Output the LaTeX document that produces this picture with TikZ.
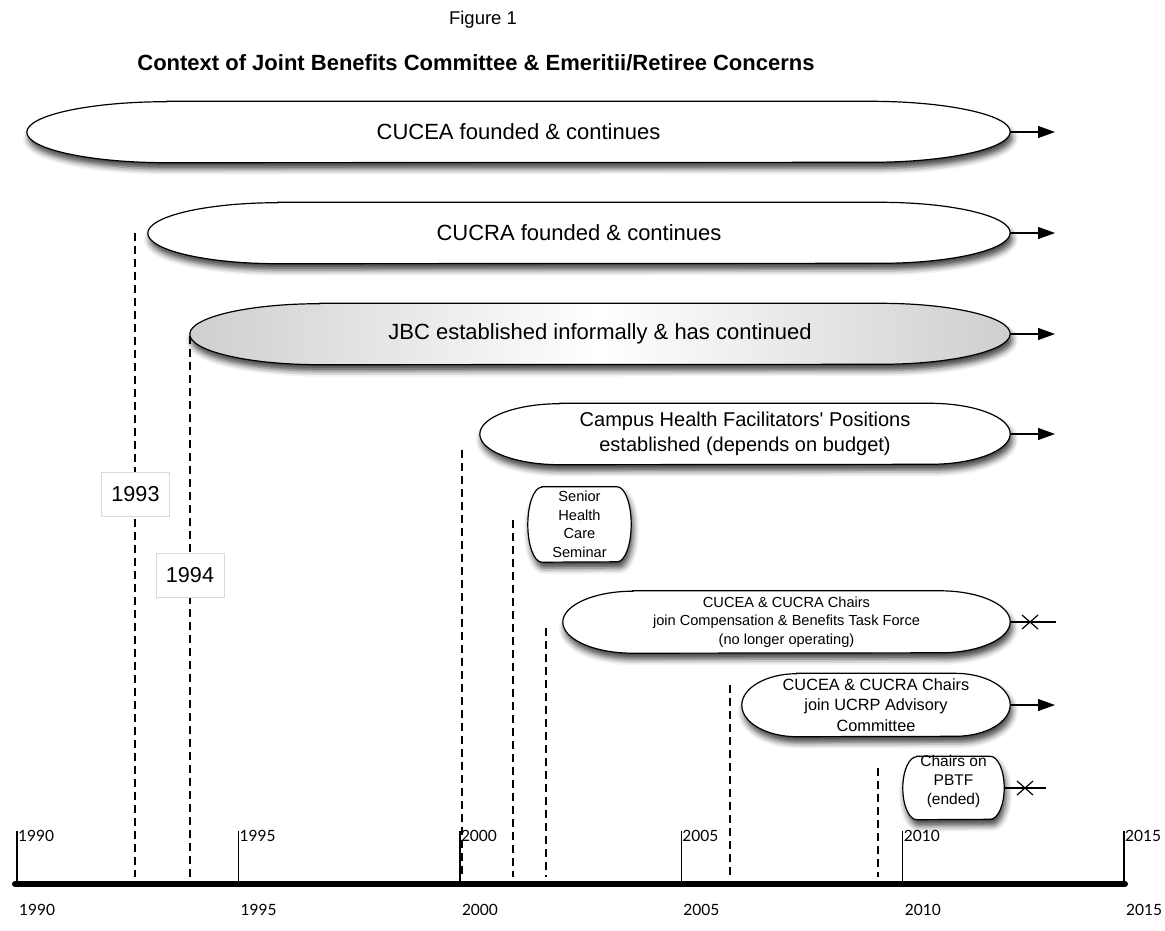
\documentclass[tikz,border=0pt]{standalone}
\usepackage{fontspec}
\setmainfont{Liberation Sans}
\newfontfamily\axisfont{Lato}
\usetikzlibrary{arrows.meta,shadows.blur,backgrounds}

% name, cap x-radius, half height, extra style
\newcommand\capsule[4]{%
  \path[capsule,#4] ([xshift=#2pt]#1.north west) -- ([xshift=-#2pt]#1.north east)
    arc[start angle=90,end angle=-90,x radius=#2pt,y radius=#3pt]
    -- ([xshift=#2pt]#1.south west)
    arc[start angle=270,end angle=90,x radius=#2pt,y radius=#3pt] -- cycle;}

\tikzset{
  holder/.style={inner sep=0pt, align=center},
  capsule/.style={draw=black, line width=1.2pt, fill=white,
    blur shadow={shadow xshift=2pt, shadow yshift=-6pt, shadow blur radius=6pt, shadow opacity=75}},
  bigtxt/.style={font=\fontsize{22}{26}\selectfont},
  midtxt/.style={font=\fontsize{20}{25}\selectfont},
  ucrptxt/.style={font=\fontsize{16.3}{20.5}\selectfont},
  smalltxt/.style={font=\fontsize{14.6}{18.5}\selectfont},
  pbtftxt/.style={font=\fontsize{15.5}{19}\selectfont},
  conn/.style={line width=1.2pt},
  goon/.style={conn, -{Triangle[length=17pt,width=12pt]}},
  yeardash/.style={line width=1.5pt, dash pattern=on 8pt off 5pt},
  yearbox/.style={draw=gray!30, line width=0.6pt, fill=white, minimum width=68pt,
    minimum height=44pt, inner sep=0pt, font=\fontsize{21.6}{24}\selectfont},
  tick/.style={line width=1.4pt},
  ticklab/.style={anchor=west, inner sep=0pt, font=\axisfont\fontsize{15.5}{17}\selectfont},
  crossmark/.style={line width=1.2pt}
}

\begin{document}
\begin{tikzpicture}[x=1pt, y=-1pt]
\useasboundingbox (0,0) rectangle (1165,930);

% titles
\node[holder, font=\fontsize{18.5}{22}\selectfont] (fig) at (483,20) {Figure 1};
\node[holder, font=\bfseries\fontsize{22}{26}\selectfont] (title) at (476,63)
  {Context of Joint Benefits Committee \& Emeritii/Retiree Concerns};

% capsule holders with text
\node[holder, bigtxt, minimum width=983pt, minimum height=61pt] (cucea) at (518.5,132) {CUCEA founded \& continues};
\node[holder, bigtxt, minimum width=862pt, minimum height=61pt] (cucra) at (579,233) {CUCRA founded \& continues};
\node[holder, bigtxt, minimum width=820pt, minimum height=61pt] (jbc) at (600,334) {JBC established informally \& has continued};
\node[holder, midtxt, minimum width=530pt, minimum height=61pt] (campus) at (745,434)
  {Campus Health Facilitators\textquotesingle\ Positions\\established (depends on budget)};
\node[holder, smalltxt, minimum width=103pt, minimum height=75pt] (senior) at (579.5,524.5)
  {Senior\\Health\\Care\\Seminar};
\node[holder, smalltxt, minimum width=447pt, minimum height=62pt] (comp) at (786.5,622)
  {CUCEA \& CUCRA Chairs\\join Compensation \& Benefits Task Force\\(no longer operating)};
\node[holder, ucrptxt, minimum width=268pt, minimum height=63pt] (ucrp) at (876,705)
  {CUCEA \& CUCRA Chairs\\join UCRP Advisory\\Committee};
\node[holder, minimum width=101pt, minimum height=63pt] (pbtf) at (953.5,788) {};

\begin{scope}[on background layer]
  \capsule{cucea}{140}{30.5}{}
  \capsule{cucra}{130}{30.5}{}
  \capsule{jbc}{130}{30.5}{left color=gray!38, right color=gray!38, middle color=white}
  \capsule{campus}{80}{30.5}{}
  \capsule{senior}{14}{37.5}{}
  \capsule{comp}{70}{31}{}
  \capsule{ucrp}{55}{31.5}{}
  \capsule{pbtf}{14}{31.5}{}
\end{scope}

\node[holder, pbtftxt] (pbtfT) at (953.5,781) {Chairs on\\PBTF\\(ended)};

% continuation arrows
\coordinate (cuceaE) at (1055,132);
\coordinate (cucraE) at (1055,233);
\coordinate (jbcE) at (1055,334);
\coordinate (campusE) at (1055,434);
\coordinate (ucrpE) at (1055,705);
\draw[goon] (cucea.east) -- (cuceaE);
\draw[goon] (cucra.east) -- (cucraE);
\draw[goon] (jbc.east) -- (jbcE);
\draw[goon] (campus.east) -- (campusE);
\draw[goon] (ucrp.east) -- (ucrpE);

% ended marks
\coordinate (compE) at (1056,622);
\coordinate (compX) at (1030,622);
\draw[conn] (comp.east) -- (compE);
\draw[crossmark] (compX) +(-8,-7) -- +(8,7);
\draw[crossmark] (compX) +(-8,7) -- +(8,-7);
\coordinate (pbtfE) at (1046,788);
\coordinate (pbtfX) at (1025,788);
\draw[conn] (pbtf.east) -- (pbtfE);
\draw[crossmark] (pbtfX) +(-8,-7) -- +(8,7);
\draw[crossmark] (pbtfX) +(-8,7) -- +(8,-7);

% dashed year lines
\coordinate (d93t) at (135,233);   \coordinate (d93b) at (135,877);
\coordinate (d94t) at (190,336);   \coordinate (d94b) at (190,877);
\coordinate (d00t) at (462,450);   \coordinate (d00b) at (462,877);
\coordinate (d01t) at (513,520);   \coordinate (d01b) at (513,877);
\coordinate (d02t) at (546,628);   \coordinate (d02b) at (546,877);
\coordinate (d06t) at (730,685);   \coordinate (d06b) at (730,877);
\coordinate (d09t) at (878,768);   \coordinate (d09b) at (878,877);
\foreach \a in {93,94,00,01,02,06,09}
  \draw[yeardash] (d\a t) -- (d\a b);

\node[yearbox] (y93) at (135.5,494) {1993};
\node[yearbox] (y94) at (190,575) {1994};

% time axis
\coordinate (axL) at (15,884);
\coordinate (axR) at (1125,884);
\draw[line width=6pt, line cap=round] (axL) -- (axR);
\foreach \y [count=\i from 0] in {1990,1995,2000,2005,2010,2015} {
  \coordinate (t\y) at ({17+221.4*\i},884);
  \coordinate (u\y) at ({17+221.4*\i},831);
  \draw[tick] (t\y) -- (u\y);
  \node[ticklab] (lt\y) at ({18+221.4*\i},836) {\y};
  \node[ticklab] (lb\y) at ({19+221.4*\i},910) {\y};
}
\end{tikzpicture}
\end{document}
